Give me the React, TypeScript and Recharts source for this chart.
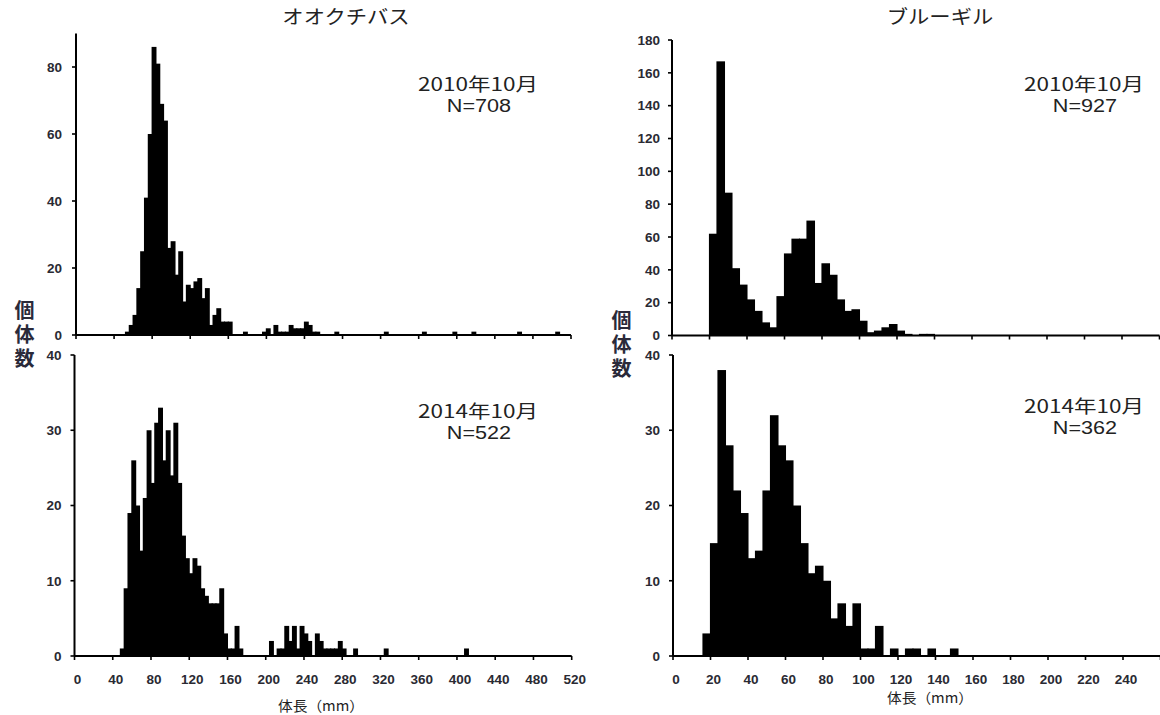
import React from 'react';
import { BarChart, Bar, XAxis, YAxis } from 'recharts';

// bin width of the length-frequency histograms (mm)
const BIN_MM = 4;

// オオクチバス 2010年10月 : bin start (mm) and count
const bassBins2010 = [52, 56, 60, 64, 68, 72, 76, 80, 84, 88, 92, 96, 100, 104, 108, 112, 116, 120, 124, 128, 132, 136, 140, 144, 148, 152, 156, 160, 176, 196, 200, 208, 212, 216, 220, 224, 228, 232, 236, 240, 244, 248, 252, 272, 324, 364, 396, 416, 464, 504];
const bassCounts2010 = [1, 3, 6, 14, 25, 41, 60, 86, 81, 69, 64, 26, 28, 18, 25, 10, 15, 14, 16, 17, 11, 14, 3, 6, 8, 4, 4, 4, 1, 1, 2, 3, 1, 1, 1, 3, 2, 2, 2, 4, 3, 1, 1, 1, 1, 1, 1, 1, 1, 1];

// オオクチバス 2014年10月
const bassBins2014 = [48, 52, 56, 60, 64, 68, 72, 76, 80, 84, 88, 92, 96, 100, 104, 108, 112, 116, 120, 124, 128, 132, 136, 140, 144, 148, 152, 156, 160, 164, 168, 172, 204, 212, 216, 220, 224, 228, 232, 236, 240, 244, 252, 256, 260, 264, 268, 272, 276, 280, 292, 324, 408];
const bassCounts2014 = [1, 9, 19, 26, 20, 14, 21, 30, 23, 31, 33, 26, 30, 24, 31, 23, 16, 13, 11, 13, 12, 9, 8, 7, 7, 7, 9, 3, 1, 1, 4, 1, 2, 1, 1, 4, 2, 4, 1, 4, 3, 2, 3, 2, 1, 1, 1, 1, 2, 1, 1, 1, 1];

// ブルーギル 2010年10月
const gillBins2010 = [20, 24, 28, 32, 36, 40, 44, 48, 52, 56, 60, 64, 68, 72, 76, 80, 84, 88, 92, 96, 100, 104, 108, 112, 116, 120, 124, 132, 136];
const gillCounts2010 = [62, 167, 87, 41, 31, 22, 15, 8, 5, 24, 50, 59, 59, 70, 32, 44, 37, 22, 15, 16, 9, 2, 3, 5, 7, 3, 1, 1, 1];

// ブルーギル 2014年10月
const gillBins2014 = [16, 20, 24, 28, 32, 36, 40, 44, 48, 52, 56, 60, 64, 68, 72, 76, 80, 84, 88, 92, 96, 100, 104, 108, 116, 124, 128, 136, 148];
const gillCounts2014 = [3, 15, 38, 28, 22, 19, 13, 14, 22, 32, 28, 26, 20, 15, 11, 12, 10, 5, 7, 4, 7, 1, 1, 4, 1, 1, 1, 1, 1];

// axis ticks
const bassLengthTicks = [0, 40, 80, 120, 160, 200, 240, 280, 320, 360, 400, 440, 480, 520];
const gillLengthTicks = [0, 20, 40, 60, 80, 100, 120, 140, 160, 180, 200, 220, 240, 260];
const bassCountTicks2010 = [0, 20, 40, 60, 80];
const gillCountTicks2010 = [0, 20, 40, 60, 80, 100, 120, 140, 160, 180];
const countTicks2014 = [0, 10, 20, 30, 40];

// texts
const speciesTitles = ['オオクチバス', 'ブルーギル'];
const surveyLabels = ['2010年10月', '2014年10月'];
const sampleSizes = ['N=708', 'N=927', 'N=522', 'N=362'];
const yTitle = '個体数';
const xTitle = '体長（mm）';

const NUM_FONT = "'Liberation Sans', Arial, sans-serif";
const JP_FONT = "'Noto Sans CJK JP', 'Noto Sans', sans-serif";

type PanelProps = {
  left: number;
  top: number;
  width: number;
  height: number;
  yAxisWidth: number;
  margin: { top: number; right: number; bottom: number; left: number };
  xAxisHeight: number;
  xDomain: [number, number];
  xTicks: number[];
  yDomain: [number, number];
  yTicks: number[];
  bins: number[];
  counts: number[];
  maxXLabel: number | null;
  yTickMargin: number;
};

const makeXTick = (maxLabel: number | null) => (props: any) => {
  const { x, y, payload } = props;
  if (maxLabel === null || payload.value > maxLabel) return <g />;
  return (
    <text
      x={x + 3}
      y={y}
      dy="0.71em"
      textAnchor="middle"
      fontSize={13.5}
      fontWeight="bold"
      fill="#2a2a33"
      fontFamily={NUM_FONT}
    >
      {payload.value}
    </text>
  );
};

// histogram column: centred on the library's bar position, one full bin wide
// (slightly widened so that neighbouring columns merge without seams)
const makeHistRect = (binPx: number) => (props: any) => {
  const { x, y, width, height } = props;
  if (!height || height <= 0) return <g />;
  const cx = x + width / 2;
  const w = binPx + 1.1;
  return <rect x={cx - w / 2} y={y} width={w} height={height} fill="#000" />;
};

function Panel(p: PanelProps) {
  const data = p.bins.map((b, i) => ({ x: b + BIN_MM / 2, n: p.counts[i] }));
  const plotWidth = p.width - p.yAxisWidth - p.margin.left - p.margin.right;
  const binPx = (plotWidth / (p.xDomain[1] - p.xDomain[0])) * BIN_MM;
  return (
    <div style={{ position: 'absolute', left: p.left, top: p.top }}>
      <BarChart width={p.width} height={p.height} data={data} margin={p.margin} barGap={0}>
        <XAxis
          dataKey="x"
          type="number"
          domain={p.xDomain}
          ticks={p.xTicks}
          interval={0}
          height={p.xAxisHeight}
          tickSize={4}
          tickMargin={14}
          axisLine={{ stroke: '#000', strokeWidth: 2 }}
          tickLine={{ stroke: '#000', strokeWidth: 1.6 }}
          tick={makeXTick(p.maxXLabel)}
          allowDataOverflow
        />
        <YAxis
          type="number"
          domain={p.yDomain}
          ticks={p.yTicks}
          interval={0}
          width={p.yAxisWidth}
          tickSize={4}
          tickMargin={p.yTickMargin}
          axisLine={{ stroke: '#000', strokeWidth: 2 }}
          tickLine={{ stroke: '#000', strokeWidth: 1.6 }}
          tick={{ fontSize: 13.5, fontWeight: 'bold', fill: '#2a2a33', fontFamily: NUM_FONT }}
          allowDataOverflow
        />
        <Bar
          dataKey="n"
          fill="#000"
          stroke="#000"
          strokeWidth={1}
          barSize={binPx - 0.05}
          shape={makeHistRect(binPx)}
          isAnimationActive={false}
        />
      </BarChart>
    </div>
  );
}

const Txt = ({ x, y, size, children, bold, sx, font, extra }: any) => (
  <div
    style={{
      position: 'absolute',
      left: x,
      top: y,
      transform: `translate(-50%, -50%) scaleX(${sx || 1})`,
      whiteSpace: 'nowrap',
      textAlign: 'center',
      fontFamily: font || JP_FONT,
      fontSize: size,
      fontWeight: bold ? 700 : 400,
      lineHeight: 1,
      color: '#222',
      ...(extra || {}),
    }}
  >
    {children}
  </div>
);

const Note = ({ x, y, a, b }: any) => (
  <>
    <Txt x={x} y={y - 1} size={18} sx={1.25}>{a}</Txt>
    <Txt x={x + 1} y={y + 22} size={18} sx={1.2} font={NUM_FONT}>{b}</Txt>
  </>
);

const YTitle = ({ x, y }: any) => (
  <Txt
    x={x}
    y={y}
    size={20}
    bold
    extra={{ writingMode: 'vertical-rl', letterSpacing: 4, color: '#2a2a3a' }}
  >
    {yTitle}
  </Txt>
);

export default function App() {
  return (
    <div
      style={{
        position: 'absolute',
        left: 0,
        top: 0,
        width: 1160,
        height: 715,
        overflow: 'hidden',
        background: '#fff',
      }}
    >
      <Panel
        left={0}
        top={0}
        width={590}
        height={355}
        yAxisWidth={76}
        margin={{ top: 33.5, right: 19, bottom: 0, left: 0 }}
        xAxisHeight={20}
        xDomain={[0, 520]}
        xTicks={bassLengthTicks}
        yDomain={[0, 90]}
        yTicks={bassCountTicks2010}
        bins={bassBins2010}
        counts={bassCounts2010}
        maxXLabel={null}
        yTickMargin={10}
      />
      <Panel
        left={0}
        top={340}
        width={590}
        height={346}
        yAxisWidth={74.5}
        margin={{ top: 15, right: 18.3, bottom: 0, left: 0 }}
        xAxisHeight={30}
        xDomain={[0, 520]}
        xTicks={bassLengthTicks}
        yDomain={[0, 40]}
        yTicks={countTicks2014}
        bins={bassBins2014}
        counts={bassCounts2014}
        maxXLabel={520}
        yTickMargin={9}
      />
      <Panel
        left={600}
        top={0}
        width={560}
        height={355.5}
        yAxisWidth={72}
        margin={{ top: 40, right: 0.5, bottom: 0, left: 0 }}
        xAxisHeight={20}
        xDomain={[0, 260]}
        xTicks={gillLengthTicks}
        yDomain={[0, 180]}
        yTicks={gillCountTicks2010}
        bins={gillBins2010}
        counts={gillCounts2010}
        maxXLabel={null}
        yTickMargin={8}
      />
      <Panel
        left={600}
        top={340}
        width={561}
        height={346}
        yAxisWidth={73}
        margin={{ top: 15, right: 0.5, bottom: 0, left: 0 }}
        xAxisHeight={30}
        xDomain={[0, 260]}
        xTicks={gillLengthTicks}
        yDomain={[0, 40]}
        yTicks={countTicks2014}
        bins={gillBins2014}
        counts={gillCounts2014}
        maxXLabel={240}
        yTickMargin={9}
      />

      <Txt x={346} y={15} size={19} sx={1.12}>{speciesTitles[0]}</Txt>
      <Txt x={940} y={15} size={19} sx={1.12}>{speciesTitles[1]}</Txt>

      <Note x={478} y={84} a={surveyLabels[0]} b={sampleSizes[0]} />
      <Note x={1084} y={84} a={surveyLabels[0]} b={sampleSizes[1]} />
      <Note x={478} y={411} a={surveyLabels[1]} b={sampleSizes[2]} />
      <Note x={1084} y={406} a={surveyLabels[1]} b={sampleSizes[3]} />

      <YTitle x={24} y={336} />
      <YTitle x={621} y={346} />

      <Txt x={321} y={705} size={14} sx={1.05}>{xTitle}</Txt>
      <Txt x={930} y={697} size={14} sx={1.05}>{xTitle}</Txt>
    </div>
  );
}
